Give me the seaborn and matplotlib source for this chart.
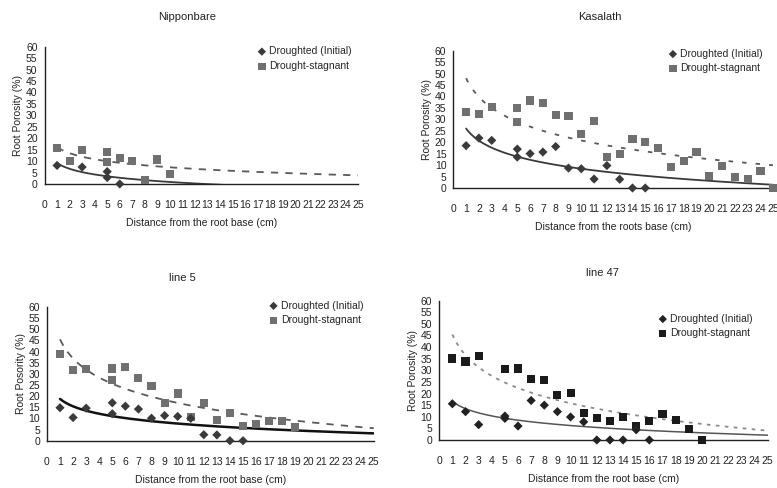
import numpy as np
import pandas as pd
import matplotlib
matplotlib.use("Agg")
import matplotlib.pyplot as plt
import seaborn as sns

# ---------------- data ----------------
titles = ["Nipponbare", "Kasalath", "line 5", "line 47"]
xlabels = ["Distance from the root base (cm)", "Distance from the roots base (cm)",
           "Distance from the root base (cm)", "Distance from the root base (cm)"]
ylabels = ["Root Porosity (%)", "Root Porosity (%)", "Root Posority (%)", "Root Porosity (%)"]
series_names = ["Droughted (Initial)", "Drought-stagnant"]
x_ticks = list(range(0, 26))
y_ticks = list(range(0, 61, 5))

nip_init_x = [1, 3, 5, 5, 6]
nip_init_y = [8.1, 7.4, 5.4, 2.8, 0]
nip_stag_x = [1, 2, 3, 5, 5, 6, 7, 8, 9, 10]
nip_stag_y = [15.7, 10, 14.7, 14.0, 9.7, 11.5, 10, 1.8, 10.7, 4.3]

kas_init_x = [1, 2, 3, 5, 5, 6, 7, 8, 9, 10, 11, 12, 13, 14, 15]
kas_init_y = [18.5, 21.8, 20.8, 17.0, 13.5, 15.0, 15.7, 18.1, 8.7, 8.4, 3.9, 9.8, 3.8, 0, 0]
kas_stag_x = [1, 2, 3, 5, 5, 6, 7, 8, 9, 10, 11, 12, 13, 14, 15, 16, 17, 18, 19, 20, 21, 22, 23, 24, 25]
kas_stag_y = [33.1, 32.5, 35.4, 34.8, 28.7, 38.2, 37.1, 31.9, 31.5, 23.6, 29.4, 13.5, 14.7, 21.4,
              20.0, 17.5, 9.2, 11.9, 15.7, 5.1, 9.6, 4.8, 3.9, 7.6, 0]

l5_init_x = [1, 2, 3, 5, 5, 6, 7, 8, 9, 10, 11, 12, 13, 14, 15]
l5_init_y = [14.8, 10.4, 14.6, 17.0, 12.1, 15.5, 14.2, 10.1, 11.3, 10.9, 10.0, 2.7, 2.6, 0, 0]
l5_stag_x = [1, 2, 3, 5, 5, 6, 7, 8, 9, 10, 11, 12, 13, 14, 15, 16, 17, 18, 19]
l5_stag_y = [39.0, 31.9, 32.2, 32.4, 27.3, 33.1, 28.2, 24.6, 17.0, 21.2, 10.6, 16.8, 9.3, 12.6,
             6.7, 7.3, 8.8, 8.8, 6.3]

l47_init_x = [1, 2, 3, 5, 5, 6, 7, 8, 9, 10, 11, 12, 13, 14, 15, 16]
l47_init_y = [15.6, 12.2, 6.6, 10.3, 9.3, 6.0, 17.0, 15.0, 12.2, 9.9, 7.8, 0, 0, 0, 4.4, 0]
l47_stag_x = [1, 2, 3, 5, 6, 7, 8, 9, 10, 11, 12, 13, 14, 15, 16, 17, 18, 19, 20]
l47_stag_y = [35.1, 33.8, 36.0, 30.5, 30.8, 26.4, 25.9, 19.2, 20.1, 11.5, 9.4, 8.3, 10.0, 6.2,
              8.3, 11.2, 8.7, 4.9, 0]

panels_data = [
    (nip_init_x, nip_init_y, nip_stag_x, nip_stag_y),
    (kas_init_x, kas_init_y, kas_stag_x, kas_stag_y),
    (l5_init_x, l5_init_y, l5_stag_x, l5_stag_y),
    (l47_init_x, l47_init_y, l47_stag_x, l47_stag_y),
]

# ---------------- style ----------------
sns.set_theme(style="white")
plt.rcParams["font.family"] = ["Liberation Sans", "DejaVu Sans"]
plt.rcParams["font.size"] = 7.5

fig = plt.figure(figsize=(7.77, 4.88), dpi=100)

# axes rectangles [left, bottom, width, height] in figure fraction
rects = [
    [0.0573, 0.6230, 0.4034, 0.2813],
    [0.5834, 0.6148, 0.4118, 0.2814],
    [0.0604, 0.0969, 0.4206, 0.2740],
    [0.5653, 0.0984, 0.4225, 0.2855],
]
title_pos = [(0.241, 0.965), (0.772, 0.965), (0.235, 0.43), (0.775, 0.44)]
legend_anchor = [(0.333, 0.905), (0.862, 0.90), (0.348, 0.384), (0.849, 0.357)]

init_col = ["#3a3a3a", "#3a3a3a", "#3a3a3a", "#222222"]
stag_col = ["#707070", "#707070", "#707070", "#1a1a1a"]
solid_col = ["#3a3a3a", "#3a3a3a", "#111111", "#555555"]
solid_lw = [1.3, 1.3, 1.8, 1.1]
dash_col = ["#5a5a5a", "#5a5a5a", "#5a5a5a", "#8a8a8a"]
dash_style = [(0, (4, 4)), (0, (2.5, 5)), (0, (4, 4)), (0, (2, 3))]

grid = np.linspace(1, 25, 200)

for i in range(4):
    ax = fig.add_axes(rects[i])
    ix, iy, sx, sy = panels_data[i]

    # logarithmic trend lines fitted from the data (as in the source spreadsheet)
    a1, b1 = np.polyfit(np.log(ix), iy, 1)
    a2, b2 = np.polyfit(np.log(sx), sy, 1)
    df_t1 = pd.DataFrame({"x": grid, "y": a1 * np.log(grid) + b1})
    df_t2 = pd.DataFrame({"x": grid, "y": a2 * np.log(grid) + b2})
    sns.lineplot(data=df_t2, x="x", y="y", ax=ax, color=dash_col[i], lw=1.3,
                 linestyle=dash_style[i], estimator=None, sort=False, zorder=2)
    sns.lineplot(data=df_t1, x="x", y="y", ax=ax, color=solid_col[i], lw=solid_lw[i],
                 estimator=None, sort=False, zorder=2)

    df_i = pd.DataFrame({"x": ix, "y": iy})
    df_s = pd.DataFrame({"x": sx, "y": sy})
    sns.scatterplot(data=df_i, x="x", y="y", ax=ax, marker="D", s=22, color=init_col[i],
                    edgecolor="none", label=series_names[0], zorder=4, clip_on=False)
    sns.scatterplot(data=df_s, x="x", y="y", ax=ax, marker="s", s=34, color=stag_col[i],
                    edgecolor="none", label=series_names[1], zorder=3, clip_on=False)

    ax.set_xlim(0, 25)
    ax.set_ylim(0, 60)
    ax.set_xticks(x_ticks)
    ax.set_yticks(y_ticks)
    ax.set_xticklabels([str(v) for v in x_ticks])
    ax.set_yticklabels([str(v) for v in y_ticks])
    ax.tick_params(axis="x", direction="inout", length=5, width=0.9, color="#222222",
                   pad=9, labelsize=7.5, labelcolor="#222222")
    ax.tick_params(axis="y", direction="out", length=3, width=0.9, color="#222222",
                   pad=2, labelsize=7.5, labelcolor="#222222")
    for side in ["top", "right"]:
        ax.spines[side].set_visible(False)
    for side in ["left", "bottom"]:
        ax.spines[side].set_color("#222222")
        ax.spines[side].set_linewidth(1.0)
    ax.set_facecolor("none")
    ax.set_xlabel(xlabels[i], fontsize=7.5, color="#222222", labelpad=6)
    ax.set_ylabel(ylabels[i], fontsize=7.5, color="#222222", labelpad=2)

    handles, labels = ax.get_legend_handles_labels()
    keep = [(h, l) for h, l in zip(handles, labels) if l in series_names]
    ax.legend([h for h, _ in keep], [l for _, l in keep], loc="upper left",
              bbox_to_anchor=legend_anchor[i], bbox_transform=fig.transFigure,
              frameon=False, fontsize=7.5, handlelength=0.6, handletextpad=0.4,
              borderpad=0, borderaxespad=0, labelspacing=0.45, markerscale=0.9)

    fig.text(title_pos[i][0], title_pos[i][1], titles[i], ha="center", va="center",
             fontsize=8, color="#222222")

fig.savefig("out.png", dpi=100)
